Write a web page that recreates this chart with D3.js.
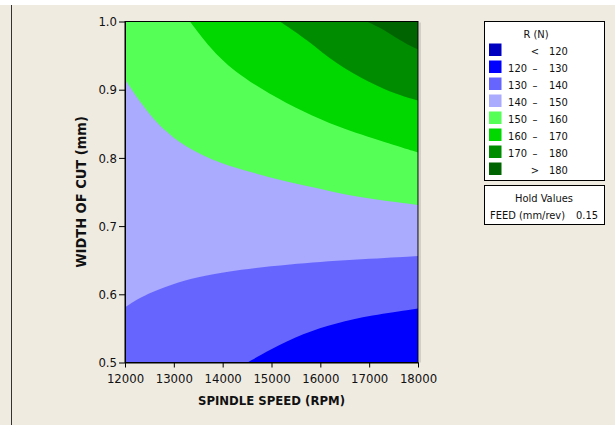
<!DOCTYPE html>
<html>
<head>
<meta charset="utf-8">
<script src="https://cdn.jsdelivr.net/npm/d3@7"></script>
<style>
  body { margin: 0; background: #ffffff; }
  text { font-family: Tahoma, "DejaVu Sans Condensed", "DejaVu Sans", sans-serif; fill: #111; }
</style>
</head>
<body>
<svg width="615" height="425"></svg>
<script>
// contour of R (N) over spindle speed x width of cut, feed held at 0.15

var speedTicks = [12000, 13000, 14000, 15000, 16000, 17000, 18000];
var widthTicks = [0.5, 0.6, 0.7, 0.8, 0.9, 1.0];

var bandLow  = ["", "120", "130", "140", "150", "160", "170", ""];
var bandSym  = ["<", "\u2013", "\u2013", "\u2013", "\u2013", "\u2013", "\u2013", ">"];
var bandHigh = ["120", "130", "140", "150", "160", "170", "180", "180"];
var bandColors = ["#0000c0", "#0000ff", "#6666ff", "#aaaaff", "#55ff55", "#00d800", "#008c00", "#006400"];

// contour lines, [speed, width]
var c130 = [[14510, 0.500], [14970, 0.519], [15650, 0.543], [16330, 0.558], [17020, 0.569], [18000, 0.579]];
var c140 = [[12000, 0.581], [12440, 0.601], [13130, 0.619], [13600, 0.627], [14350, 0.636], [15310, 0.644], [16680, 0.651], [18000, 0.656]];
var c150 = [[12000, 0.915], [12580, 0.853], [13260, 0.814], [13950, 0.792], [14630, 0.778], [15310, 0.765], [15990, 0.755], [16680, 0.743], [18000, 0.731]];
var c160 = [[13330, 1.000], [13740, 0.961], [14220, 0.927], [14970, 0.893], [15650, 0.868], [16330, 0.846], [17360, 0.822], [18000, 0.808]];
var c170 = [[15170, 1.000], [15720, 0.974], [16330, 0.937], [17020, 0.910], [17560, 0.893], [18000, 0.884]];
var c180 = [[16950, 1.000], [17360, 0.986], [17700, 0.969], [18000, 0.959]];

var holdName = "FEED (mm/rev)";
var holdValue = "0.15";

var svg = d3.select("svg");

// window background
svg.append("rect").attr("x", 0).attr("y", 5).attr("width", 615).attr("height", 420).attr("fill", "#efebe1");
svg.append("line").attr("x1", 11.5).attr("x2", 11.5).attr("y1", 5).attr("y2", 425)
  .attr("stroke", "#333").attr("stroke-width", 1);

var x = d3.scaleLinear().domain([12000, 18000]).range([125, 418]);
var y = d3.scaleLinear().domain([0.5, 1.0]).range([362.5, 21.5]);

var plot = svg.append("g");

// base band 130-140
plot.append("rect")
  .attr("x", x(12000)).attr("y", y(1))
  .attr("width", x(18000) - x(12000)).attr("height", y(0.5) - y(1))
  .attr("fill", bandColors[2]);

var below = d3.area()
  .x(function(d){ return x(d[0]) })
  .y0(y(0.5))
  .y1(function(d){ return y(d[1]) })
  .curve(d3.curveBasis);

var above = d3.area()
  .x(function(d){ return x(d[0]) })
  .y0(y(1.0))
  .y1(function(d){ return y(d[1]) })
  .curve(d3.curveBasis);

plot.append("path").attr("d", below(c130)).attr("fill", bandColors[1]);

var upper = [[c140, 3], [c150, 4], [c160, 5], [c170, 6], [c180, 7]];
upper.forEach(function(u){
  plot.append("path").attr("d", above(u[0])).attr("fill", bandColors[u[1]]);
});

// frame
svg.append("rect")
  .attr("x", x(12000)).attr("y", y(1))
  .attr("width", x(18000) - x(12000)).attr("height", y(0.5) - y(1))
  .attr("fill", "none").attr("stroke", "#000").attr("stroke-width", 1);
svg.append("line")
  .attr("x1", x(18000) + 2).attr("x2", x(18000) + 2).attr("y1", y(1) + 1).attr("y2", y(0.5))
  .attr("stroke", "#b8b4ac").attr("stroke-width", 1);

var xAxis = svg.append("g")
  .attr("transform", "translate(0," + y(0.5) + ")")
  .call(d3.axisBottom(x).tickValues(speedTicks).tickFormat(d3.format("d")).tickSize(5).tickSizeOuter(0).tickPadding(6));

var yAxis = svg.append("g")
  .attr("transform", "translate(" + x(12000) + ",0)")
  .call(d3.axisLeft(y).tickValues(widthTicks).tickFormat(d3.format(".1f")).tickSize(6).tickSizeOuter(0).tickPadding(2));

[xAxis, yAxis].forEach(function(a){
  a.select(".domain").attr("stroke", "#000");
  a.selectAll(".tick line").attr("stroke", "#000");
  a.selectAll(".tick text").attr("font-size", 13).attr("font-family", null).style("fill", "#111");
});

svg.append("text")
  .attr("x", (x(12000) + x(18000)) / 2).attr("y", 405)
  .attr("text-anchor", "middle").attr("font-size", 13).attr("font-weight", "bold")
  .text("SPINDLE SPEED (RPM)");

svg.append("text")
  .attr("transform", "translate(86," + (y(0.5) + y(1)) / 2 + ") rotate(-90)")
  .attr("text-anchor", "middle").attr("font-size", 14.5).attr("font-weight", "bold")
  .text("WIDTH OF CUT (mm)");

// legend
var fs = 11;
var lg = svg.append("g");
lg.append("rect").attr("x", 484.5).attr("y", 21.5).attr("width", 120).attr("height", 159)
  .attr("fill", "#fff").attr("stroke", "#000");
lg.append("text").attr("x", 536).attr("y", 38).attr("text-anchor", "middle")
  .attr("font-size", fs).text("R (N)");

var rows = lg.selectAll("g.row").data(bandColors).enter().append("g")
  .attr("transform", function(d, i){ return "translate(0," + (43.5 + i * 17) + ")" });
rows.append("rect").attr("x", 489).attr("width", 12.5).attr("height", 12.5)
  .attr("fill", function(d){ return d });
rows.append("text").attr("x", 527).attr("y", 11).attr("text-anchor", "end").attr("font-size", fs)
  .text(function(d, i){ return bandLow[i] });
rows.append("text").attr("x", 535).attr("y", 11).attr("text-anchor", "middle").attr("font-size", fs)
  .text(function(d, i){ return bandSym[i] });
rows.append("text").attr("x", 549).attr("y", 11).attr("font-size", fs)
  .text(function(d, i){ return bandHigh[i] });

var hold = svg.append("g");
hold.append("rect").attr("x", 484.5).attr("y", 185.5).attr("width", 120).attr("height", 39)
  .attr("fill", "#fff").attr("stroke", "#000");
hold.append("text").attr("x", 544).attr("y", 202).attr("text-anchor", "middle").attr("font-size", fs)
  .text("Hold Values");
hold.append("text").attr("x", 490).attr("y", 219).attr("font-size", fs).text(holdName);
hold.append("text").attr("x", 598).attr("y", 219).attr("text-anchor", "end").attr("font-size", fs).text(holdValue);
</script>
</body>
</html>
